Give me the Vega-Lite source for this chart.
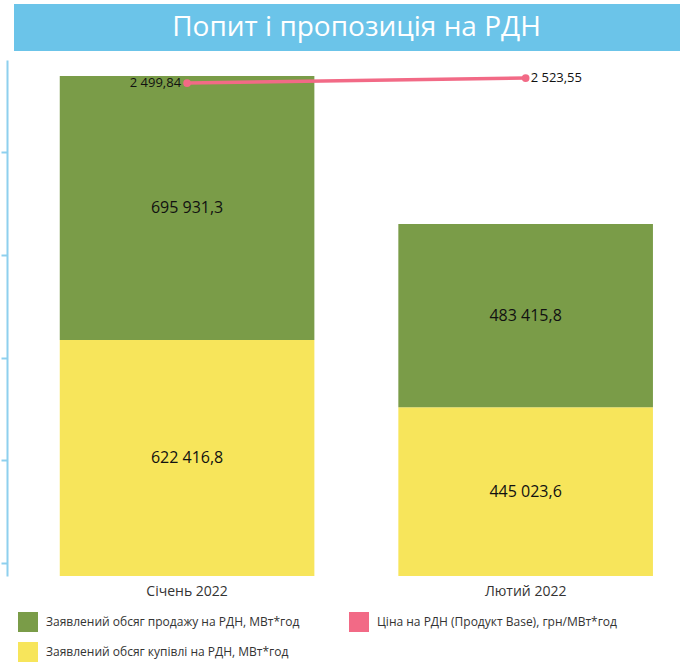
{
  "$schema": "https://vega.github.io/schema/vega-lite/v6.json",
  "padding": {"left": 0, "top": 4, "right": 0, "bottom": 0},
  "background": "white",
  "bounds": "flush",
  "spacing": 9,
  "config": {
    "view": {"stroke": null},
    "font": "Open Sans",
    "locale": {"number": {"decimal": ",", "thousands": " ", "grouping": [3], "currency": ["", ""]}}
  },
  "datasets": {
    "volumes": [
      {"month": "Січень 2022", "series": "Заявлений обсяг купівлі на РДН, МВт*год", "volume": 622416.8},
      {"month": "Січень 2022", "series": "Заявлений обсяг продажу на РДН, МВт*год", "volume": 695931.3},
      {"month": "Лютий 2022", "series": "Заявлений обсяг купівлі на РДН, МВт*год", "volume": 445023.6},
      {"month": "Лютий 2022", "series": "Заявлений обсяг продажу на РДН, МВт*год", "volume": 483415.8}
    ],
    "price": [
      {"month": "Січень 2022", "price": 2499.84},
      {"month": "Лютий 2022", "price": 2523.55}
    ]
  },
  "vconcat": [
    {
      "width": 667,
      "height": 47,
      "view": {"fill": "#6BC4E9", "stroke": null},
      "data": {"values": [{"t": "Попит і пропозиція на РДН"}]},
      "mark": {"type": "text", "fontSize": 28, "color": "white", "baseline": "middle", "dx": 9, "font": "Open Sans"},
      "encoding": {"text": {"field": "t", "type": "nominal"}}
    },
    {
      "width": 667,
      "height": 516,
      "resolve": {"scale": {"y": "independent"}},
      "layer": [
        {
          "data": {"name": "volumes"},
          "mark": {"type": "bar"},
          "encoding": {
            "x": {
              "field": "month", "type": "nominal",
              "scale": {"domain": ["Січень 2022", "Лютий 2022"], "paddingInner": 0.248, "paddingOuter": 0.109, "align": 0.62},
              "axis": {"title": null, "ticks": false, "domain": false, "labelAngle": 0, "labelFontSize": 14, "labelColor": "#333333", "labelPadding": 8, "labelFont": "Open Sans"}
            },
            "y": {
              "field": "volume", "type": "quantitative", "stack": "zero",
              "scale": {"domain": [0, 1360535], "nice": false},
              "axis": {"values": [34277, 305856, 574800, 846384, 1117960], "labels": false, "title": null, "grid": false, "offset": 7, "tickSize": 6, "domainColor": "#8ED0EE", "tickColor": "#8ED0EE", "domainWidth": 2, "tickWidth": 2}
            },
            "color": {
              "field": "series", "type": "nominal",
              "scale": {
                "domain": ["Заявлений обсяг продажу на РДН, МВт*год", "Ціна на РДН (Продукт Base), грн/МВт*год", "Заявлений обсяг купівлі на РДН, МВт*год"],
                "range": ["#7A9C48", "#F26A86", "#F7E55B"]
              },
              "legend": {
                "orient": "bottom", "direction": "horizontal", "columns": 2, "title": null,
                "symbolType": "square", "symbolSize": 400, "symbolStrokeWidth": 0, "symbolOpacity": 1,
                "labelFontSize": 12, "labelFont": "Open Sans", "labelColor": "#333333", "labelOffset": 8,
                "columnPadding": 49, "rowPadding": 10, "offset": 10, "labelLimit": 400, "padding": 4
              }
            },
            "order": {"field": "series", "sort": "ascending"}
          }
        },
        {
          "data": {"name": "volumes"},
          "transform": [
            {"stack": "volume", "groupby": ["month"], "sort": [{"field": "series", "order": "ascending"}], "as": ["lo", "hi"]},
            {"fold": ["lo", "hi"], "as": ["edge", "pos"]}
          ],
          "mark": {"type": "text", "fontSize": 16, "color": "#111111", "font": "Open Sans"},
          "encoding": {
            "x": {"field": "month", "type": "nominal"},
            "y": {"aggregate": "mean", "field": "pos", "type": "quantitative", "scale": {"domain": [0, 1360535], "nice": false}, "axis": null},
            "detail": {"field": "series", "type": "nominal"},
            "text": {"aggregate": "max", "field": "volume", "type": "quantitative", "format": ",.1f"}
          }
        },
        {
          "data": {"name": "price"},
          "encoding": {
            "x": {"field": "month", "type": "nominal"},
            "y": {"field": "price", "type": "quantitative", "scale": {"domain": [162, 2609], "nice": false, "zero": false}, "axis": null}
          },
          "layer": [
            {
              "mark": {"type": "line", "color": "#F26A86", "strokeWidth": 3.5, "point": {"filled": true, "size": 60, "color": "#F26A86"}},
              "encoding": {}
            },
            {
              "transform": [{"filter": "datum.month === 'Січень 2022'"}],
              "mark": {"type": "text", "align": "right", "dx": -6, "fontSize": 13, "color": "#111111", "font": "Open Sans"},
              "encoding": {"text": {"field": "price", "type": "quantitative", "format": ",.2f"}}
            },
            {
              "transform": [{"filter": "datum.month === 'Лютий 2022'"}],
              "mark": {"type": "text", "align": "left", "dx": 5, "fontSize": 13, "color": "#111111", "font": "Open Sans"},
              "encoding": {"text": {"field": "price", "type": "quantitative", "format": ",.2f"}}
            }
          ]
        }
      ]
    }
  ]
}
